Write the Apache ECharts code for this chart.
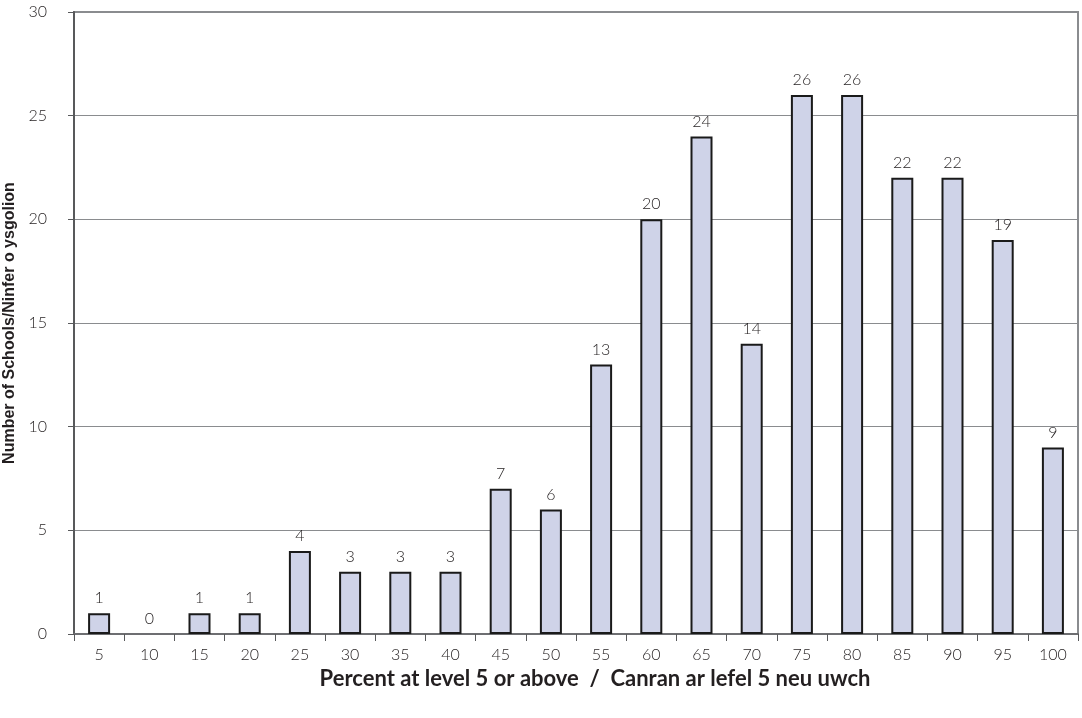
<!DOCTYPE html>
<html>
<head>
<meta charset="utf-8">
<script src="https://cdn.jsdelivr.net/npm/echarts@6/dist/echarts.min.js"></script>
<style>
  html, body { margin: 0; padding: 0; background: #fff; }
  #chart { width: 1082px; height: 718px; }
</style>
</head>
<body>
<div id="chart"></div>
<script>
// Percent bands (x axis) and number of schools in each band
const categories = ['5', '10', '15', '20', '25', '30', '35', '40', '45', '50',
                    '55', '60', '65', '70', '75', '80', '85', '90', '95', '100'];
const schools = [1, 0, 1, 1, 4, 3, 3, 3, 7, 6, 13, 20, 24, 14, 26, 26, 22, 22, 19, 9];
const yTicks = [0, 5, 10, 15, 20, 25, 30];

const xTitle = 'Percent at level 5 or above  /  Canran ar lefel 5 neu uwch';
const yTitle = 'Number of Schools/Ninfer o ysgolion';

const lightFont = 'Lato, "Open Sans", sans-serif';

// empty bands get no outline so nothing is drawn on the baseline
const barData = schools.map(v => ({
  value: v,
  itemStyle: v === 0 ? { borderWidth: 0 } : undefined
}));

const chart = echarts.init(document.getElementById('chart'));
chart.setOption({
  animation: false,
  backgroundColor: '#ffffff',
  grid: {
    left: 74, right: 4, top: 12, bottom: 84,
    outerBoundsMode: 'none',
    containLabel: false,
    show: true, borderColor: '#8a8c8f', borderWidth: 2, backgroundColor: 'transparent'
  },
  xAxis: {
    type: 'category',
    data: categories,
    boundaryGap: true,
    name: xTitle,
    nameLocation: 'middle',
    nameGap: 30,
    nameTextStyle: {
      fontFamily: 'Lato, "Open Sans", sans-serif', fontWeight: 'bold', fontSize: 22, color: '#231f20',
      padding: [0, 0, 0, 38]
    },
    axisLine: { lineStyle: { color: '#6d6e71', width: 2 } },
    axisTick: { show: true, alignWithLabel: false, length: 7, lineStyle: { color: '#58595b', width: 1 } },
    axisLabel: { margin: 13, fontFamily: lightFont, fontWeight: 300, fontSize: 16, color: '#231f20' }
  },
  yAxis: {
    type: 'value',
    min: yTicks[0],
    max: yTicks[yTicks.length - 1],
    interval: 5,
    name: yTitle,
    nameLocation: 'middle',
    nameGap: 56,
    nameTextStyle: { fontFamily: '"Liberation Sans", Arial, sans-serif', fontWeight: 'bold', fontSize: 16, color: '#231f20' },
    axisLine: { show: true, lineStyle: { color: '#58595b', width: 2 } },
    axisTick: { show: true, length: 6, lineStyle: { color: '#58595b', width: 1 } },
    axisLabel: { margin: 27, fontFamily: lightFont, fontWeight: 300, fontSize: 16, color: '#231f20' },
    splitLine: { show: true, lineStyle: { color: '#8a8c8f', width: 1 } }
  },
  series: [{
    type: 'bar',
    data: barData,
    barWidth: 22,
    itemStyle: { color: '#cfd3e8', borderColor: '#1a1a1a', borderWidth: 2 },
    label: {
      show: true,
      position: 'top',
      distance: 7,
      fontFamily: lightFont,
      fontWeight: 300,
      fontSize: 16,
      color: '#231f20'
    }
  }]
});
</script>
</body>
</html>
